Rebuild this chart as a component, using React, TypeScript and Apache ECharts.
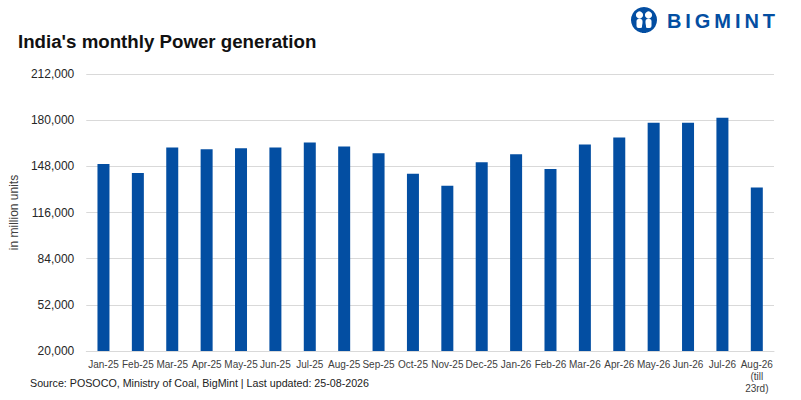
import { useEffect, useRef } from "react";
import * as echarts from "echarts";

const months = [
  "Jan-25", "Feb-25", "Mar-25", "Apr-25", "May-25", "Jun-25", "Jul-25",
  "Aug-25", "Sep-25", "Oct-25", "Nov-25", "Dec-25", "Jan-26", "Feb-26",
  "Mar-26", "Apr-26", "May-26", "Jun-26", "Jul-26", "Aug-26\n(till\n23rd)",
];

const generation = [
  149600, 143400, 161100, 159800, 160500, 161100, 164500, 161800, 157000, 142800,
  134600, 150900, 156400, 146200, 163200, 168000, 178200, 178200, 181600, 133300,
];

const yMin = 20000;
const yMax = 212000;
const yStep = 32000;

const brandLetters = ["B", "I", "G", "M", "I", "N", "T"];

const BLUE = "#034ea2";
const FONT = "'Liberation Sans', Arial, sans-serif";

export default function App() {
  const chartRef = useRef<HTMLDivElement>(null);

  useEffect(() => {
    if (!chartRef.current) return;
    const chart = echarts.init(chartRef.current, undefined, { renderer: "svg" });

    const fmt = (v: number) => v.toLocaleString("en-US");

    // logo letters spaced out one by one
    const letterFont = `bold 20px ${FONT}`;
    const widths: Record<string, number> = { B: 14.4, I: 5.6, G: 15.6, M: 16.7, N: 14.4, T: 12.2 };
    let lx = 667;
    const letterEls = brandLetters.map((ch) => {
      const el = {
        type: "text" as const,
        x: lx,
        y: 11,
        style: { text: ch, fill: BLUE, font: letterFont },
      };
      lx += widths[ch] + 3.9;
      return el;
    });

    const option: echarts.EChartsOption = {
      animation: false,
      textStyle: { fontFamily: FONT },
      grid: { left: 80, right: 27, top: 74, bottom: 49 },
      xAxis: {
        type: "category",
        data: months,
        axisLine: { lineStyle: { color: "#d9d9d9" } },
        axisTick: { show: false },
        axisLabel: {
          color: "#404040",
          fontSize: 10,
          interval: 0,
          margin: 7,
          lineHeight: 12,
          fontFamily: FONT,
        },
      },
      yAxis: {
        type: "value",
        min: yMin,
        max: yMax,
        interval: yStep,
        name: "in million units",
        nameLocation: "middle",
        nameGap: 66,
        nameTextStyle: { color: "#404040", fontSize: 12, fontFamily: FONT },
        axisLine: { show: false },
        axisTick: { show: false },
        axisLabel: {
          color: "#262626",
          fontSize: 12,
          margin: 12,
          fontFamily: FONT,
          formatter: (v: number) => fmt(v),
        },
        splitLine: { lineStyle: { color: "#d9d9d9", width: 1 } },
      },
      series: [
        {
          type: "bar",
          data: generation,
          barWidth: 12,
          itemStyle: { color: BLUE },
        },
      ],
      graphic: [
        {
          type: "text",
          left: 18,
          top: 32,
          style: {
            text: "India's monthly Power generation",
            fill: "#111",
            font: `bold 18.7px ${FONT}`,
          },
        },
        {
          type: "text",
          left: 30,
          top: 377,
          style: {
            text: "Source: POSOCO, Ministry of Coal, BigMint | Last updated: 25-08-2026",
            fill: "#222",
            font: `10.7px ${FONT}`,
          },
        },
        {
          type: "group",
          left: 631,
          top: 7,
          children: [
            { type: "circle", shape: { cx: 13, cy: 13, r: 13 }, style: { fill: BLUE } },
            { type: "circle", shape: { cx: 8.5, cy: 8, r: 3.6 }, style: { fill: "#fff" } },
            { type: "circle", shape: { cx: 17.5, cy: 8, r: 3.6 }, style: { fill: "#fff" } },
            { type: "rect", shape: { x: 5.5, y: 12, width: 6, height: 9, r: 2 }, style: { fill: "#fff" } },
            { type: "rect", shape: { x: 14.5, y: 12, width: 6, height: 9, r: 2 }, style: { fill: "#fff" } },
            { type: "polygon", shape: { points: [[11, 16], [13, 22], [15, 16], [15, 26], [11, 26]] }, style: { fill: BLUE } },
          ],
        },
        ...letterEls,
      ],
    };

    chart.setOption(option);
    return () => chart.dispose();
  }, []);

  return (
    <div
      ref={chartRef}
      style={{ position: "absolute", left: 0, top: 0, width: 801, height: 400 }}
    />
  );
}
